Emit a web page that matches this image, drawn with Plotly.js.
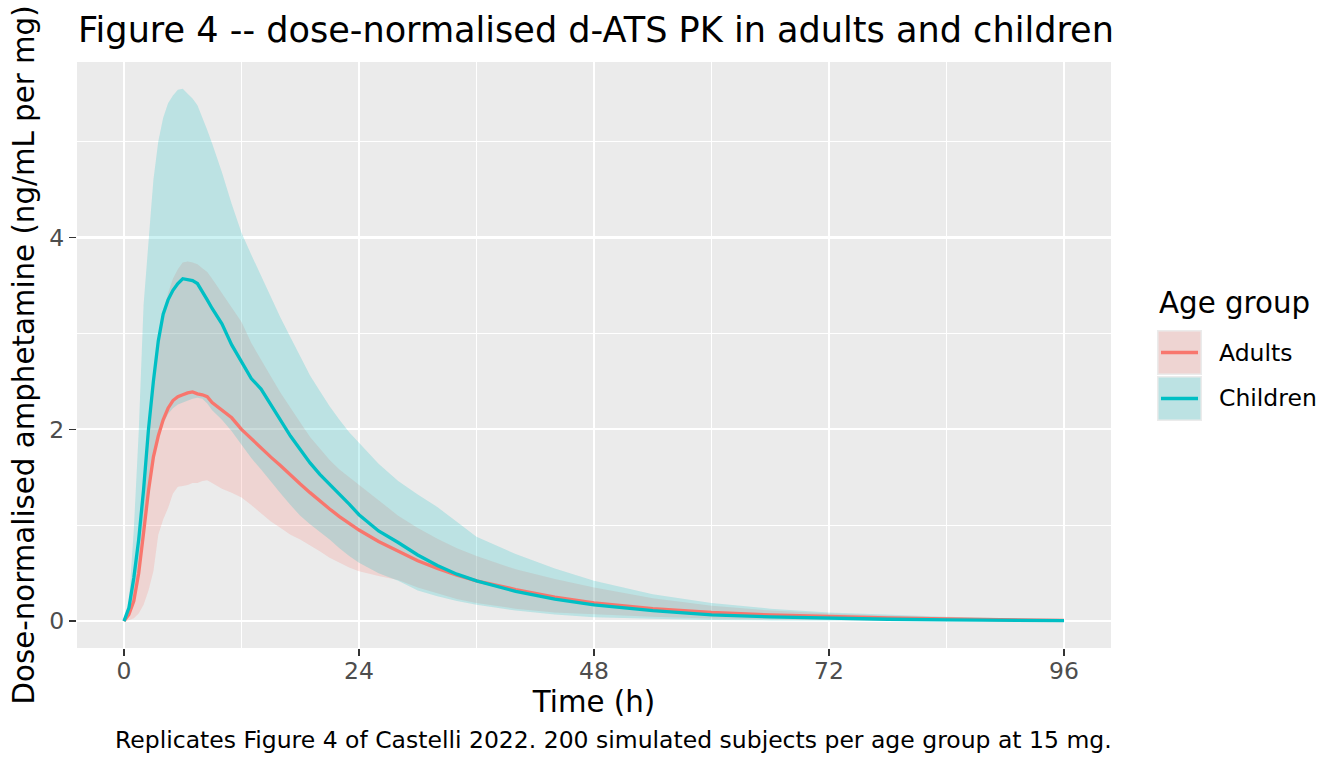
<!DOCTYPE html>
<html>
<head>
<meta charset="utf-8">
<script src="https://cdn.plot.ly/plotly-3.0.1.min.js"></script>
<style>
  html, body { margin: 0; padding: 0; background: #ffffff; }
  #chart { width: 1344px; height: 768px; }
</style>
</head>
<body>
<div id="chart"></div>
<script>
// Sampling times (h)
const hours = [0, 0.5, 1, 1.5, 2, 2.5, 3, 3.5, 4, 4.5, 5, 5.5, 6, 6.5, 7, 7.5, 8, 8.5, 9,
  10, 11, 12, 13, 14, 15, 16, 17, 18, 19, 20, 21, 22, 23, 24,
  26, 28, 30, 32, 34, 36, 40, 44, 48, 54, 60, 66, 72, 78, 84, 90, 96];

// Adults: median and 90% interval of dose-normalised concentration (ng/mL per mg)
const adultsMedian = [0, 0.07, 0.21, 0.5, 0.92, 1.36, 1.71, 1.93, 2.1, 2.22, 2.3, 2.34, 2.36, 2.38, 2.39, 2.37, 2.36, 2.34, 2.28,
  2.2, 2.12, 2.0, 1.9, 1.8, 1.71, 1.62, 1.52, 1.43, 1.34, 1.25, 1.17, 1.09, 1.02, 0.95,
  0.83, 0.73, 0.63, 0.55, 0.48, 0.42, 0.33, 0.25, 0.19, 0.13, 0.09, 0.065, 0.046, 0.033, 0.023, 0.015, 0.008];
const adultsLower = [0, 0.01, 0.03, 0.08, 0.17, 0.32, 0.52, 0.9, 1.06, 1.18, 1.33, 1.4, 1.41, 1.42, 1.44, 1.44, 1.46, 1.47, 1.44,
  1.38, 1.34, 1.29, 1.21, 1.12, 1.04, 0.97, 0.9, 0.85, 0.79, 0.73, 0.66, 0.61, 0.56, 0.52,
  0.47, 0.43, 0.35, 0.29, 0.23, 0.19, 0.13, 0.09, 0.07, 0.045, 0.028, 0.018, 0.012, 0.008, 0.005, 0.003, 0.002];
const adultsUpper = [0, 0.12, 0.45, 0.95, 1.45, 2.0, 2.5, 2.95, 3.22, 3.42, 3.57, 3.67, 3.74, 3.75, 3.74, 3.72, 3.68, 3.64, 3.57,
  3.42, 3.27, 3.12, 2.9, 2.72, 2.55, 2.38, 2.22, 2.07, 1.92, 1.8, 1.68, 1.58, 1.5, 1.42,
  1.26, 1.1, 0.97, 0.86, 0.76, 0.68, 0.54, 0.44, 0.35, 0.24, 0.16, 0.11, 0.08, 0.055, 0.038, 0.026, 0.015];

// Children: median and 90% interval
const childrenMedian = [0, 0.14, 0.45, 0.85, 1.37, 2.0, 2.5, 2.92, 3.2, 3.35, 3.45, 3.52, 3.57, 3.56, 3.55, 3.52, 3.44, 3.35, 3.26,
  3.1, 2.88, 2.7, 2.53, 2.42, 2.26, 2.1, 1.93, 1.79, 1.65, 1.53, 1.43, 1.33, 1.22, 1.11,
  0.94, 0.82, 0.69, 0.58, 0.49, 0.42, 0.31, 0.23, 0.17, 0.11, 0.066, 0.045, 0.03, 0.02, 0.013, 0.009, 0.006];
const childrenLower = [0, 0.05, 0.2, 0.55, 0.95, 1.35, 1.7, 1.9, 2.06, 2.16, 2.22, 2.26, 2.28, 2.3, 2.32, 2.33, 2.32, 2.27, 2.2,
  2.1, 1.98, 1.84, 1.7, 1.58, 1.45, 1.33, 1.21, 1.1, 1.01, 0.93, 0.85, 0.76, 0.68, 0.61,
  0.5, 0.42, 0.32, 0.26, 0.21, 0.17, 0.11, 0.07, 0.04, 0.025, 0.012, 0.008, 0.005, 0.003, 0.002, 0.001, 0.001];
const childrenUpper = [0, 0.2, 0.95, 1.97, 3.3, 3.98, 4.6, 5.0, 5.25, 5.4, 5.48, 5.54, 5.55, 5.5, 5.45, 5.38, 5.26, 5.12, 4.98,
  4.68, 4.35, 4.05, 3.82, 3.6, 3.38, 3.16, 2.96, 2.76, 2.56, 2.4, 2.24, 2.1, 1.97, 1.86,
  1.64, 1.46, 1.32, 1.19, 1.03, 0.88, 0.7, 0.55, 0.42, 0.28, 0.19, 0.13, 0.09, 0.065, 0.045, 0.03, 0.015];

const groups = ["Adults", "Children"];
const xTicks = [0, 24, 48, 72, 96];

// Styling
const FONT = "DejaVu Sans";
const COL = { Adults: "#F8766D", Children: "#00BFC4" };
const FILL = { Adults: "rgba(248,118,109,0.2)", Children: "rgba(0,191,196,0.2)" };
const LINE_W = 3.3;

const M = { l: 77, r: 233, t: 62, b: 120 };
const W = 1344, H = 768;
const PW = W - M.l - M.r, PH = H - M.t - M.b;
const px = x => (x - M.l) / PW;          // pixel -> paper x
const py = y => (H - M.b - y) / PH;      // pixel -> paper y

const series = {
  Adults: { med: adultsMedian, lo: adultsLower, hi: adultsUpper },
  Children: { med: childrenMedian, lo: childrenLower, hi: childrenUpper }
};

const traces = [];
// ribbons first
groups.forEach(g => {
  traces.push({
    x: hours, y: series[g].lo, type: "scatter", mode: "lines",
    line: { width: 0, color: FILL[g] }, showlegend: false, hoverinfo: "skip"
  });
  traces.push({
    x: hours, y: series[g].hi, type: "scatter", mode: "lines",
    line: { width: 0, color: FILL[g] }, fill: "tonexty", fillcolor: FILL[g],
    showlegend: false, hoverinfo: "skip"
  });
});
// median lines on top
groups.forEach(g => {
  traces.push({
    x: hours, y: series[g].med, type: "scatter", mode: "lines", name: g,
    line: { width: LINE_W, color: COL[g] }, showlegend: false
  });
});

// Legend drawn as shapes + annotations (ribbon key with a line through it)
const shapes = [];
const annotations = [];
const keyTop = [330, 376];
groups.forEach((g, i) => {
  const y0 = keyTop[i], y1 = keyTop[i] + 45;
  shapes.push({ type: "rect", xref: "paper", yref: "paper",
    x0: px(1157), x1: px(1202), y0: py(y1), y1: py(y0),
    fillcolor: "#EBEBEB", line: { width: 0 } });
  shapes.push({ type: "rect", xref: "paper", yref: "paper",
    x0: px(1158.5), x1: px(1200.5), y0: py(y1 - 1.5), y1: py(y0 + 1.5),
    fillcolor: FILL[g], line: { width: 0 } });
  const ym = (y0 + y1) / 2;
  shapes.push({ type: "line", xref: "paper", yref: "paper",
    x0: px(1161), x1: px(1198), y0: py(ym), y1: py(ym),
    line: { color: COL[g], width: LINE_W } });
  annotations.push({ xref: "paper", yref: "paper", x: px(1217), y: py(ym),
    xanchor: "left", yanchor: "middle", showarrow: false, text: g,
    font: { family: FONT, size: 23.5, color: "#000000" } });
});
annotations.push({ xref: "paper", yref: "paper", x: px(1157), y: py(303),
  xanchor: "left", yanchor: "middle", showarrow: false, text: "Age group",
  font: { family: FONT, size: 29.3, color: "#000000" } });
// caption
annotations.push({ xref: "paper", yref: "paper", x: px(1114), y: py(740),
  xanchor: "right", yanchor: "middle", showarrow: false,
  text: "Replicates Figure 4 of Castelli 2022. 200 simulated subjects per age group at 15 mg.",
  font: { family: FONT, size: 23.5, color: "#000000" } });

const axisCommon = {
  showline: false, zeroline: false, showgrid: true,
  gridcolor: "#FFFFFF", gridwidth: 2.2,
  ticks: "outside", ticklen: 7, tickwidth: 1.5, tickcolor: "#333333",
  tickfont: { family: FONT, size: 23.5, color: "#4D4D4D" },
  automargin: false, fixedrange: true
};

const layout = {
  width: W, height: H,
  margin: M,
  paper_bgcolor: "#FFFFFF", plot_bgcolor: "#EBEBEB",
  font: { family: FONT, color: "#000000" },
  showlegend: false,
  hovermode: false,
  title: {
    text: "Figure 4 -- dose-normalised d-ATS PK in adults and children",
    font: { family: FONT, size: 35.1, color: "#000000" },
    xref: "container", x: 78 / W, xanchor: "left",
    yref: "container", y: 1 - 30 / H, yanchor: "middle"
  },
  xaxis: Object.assign({}, axisCommon, {
    range: [-4.8, 100.8],
    tickmode: "array", tickvals: xTicks, ticktext: xTicks.map(String),
    ticklabelstandoff: -5,
    minor: { tickmode: "array", tickvals: [12, 36, 60, 84], showgrid: true, gridcolor: "#FFFFFF", gridwidth: 1.1 },
    title: { text: "Time (h)", font: { family: FONT, size: 29.3, color: "#000000" }, standoff: 6 }
  }),
  yaxis: Object.assign({}, axisCommon, {
    range: [-0.28, 5.83],
    tickmode: "linear", tick0: 0, dtick: 2,
    minor: { tickmode: "linear", tick0: 1, dtick: 2, showgrid: true, gridcolor: "#FFFFFF", gridwidth: 1.1 },
    title: { text: "Dose-normalised amphetamine (ng/mL per mg)", font: { family: FONT, size: 29.3, color: "#000000" }, standoff: 6 }
  }),
  shapes: shapes,
  annotations: annotations
};

Plotly.newPlot("chart", traces, layout, { displayModeBar: false, staticPlot: true });
</script>
</body>
</html>
